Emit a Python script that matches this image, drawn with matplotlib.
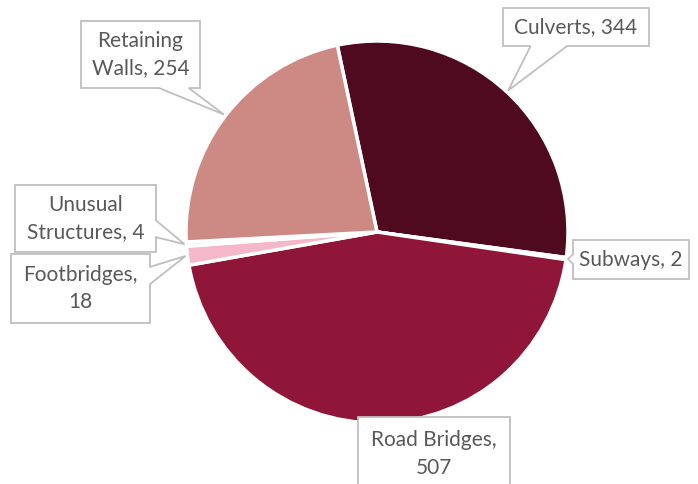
import numpy as np
import matplotlib.pyplot as plt
from matplotlib.patches import Polygon

categories = ["Culverts", "Subways", "Road Bridges", "Footbridges",
              "Unusual Structures", "Retaining Walls"]
values = [344, 2, 507, 18, 4, 254]
label_texts = ["Culverts, 344", "Subways, 2", "Road Bridges,\n507", "Footbridges,\n18",
               "Unusual\nStructures, 4", "Retaining\nWalls, 254"]
colors = ["#500A20", "#C0506E", "#8F1539", "#F4B8CA", "#F9DCE4", "#CD8A84"]

# callout boxes in pixels (left, top, right, bottom), y measured from top
boxes = [(503, 8, 649, 46), (573, 240, 689, 279), (358, 417, 510, 491),
         (11, 254, 150, 323), (15, 185, 156, 252), (81, 21, 200, 88)]

W, H = 698, 484
fig = plt.figure(figsize=(W / 100, H / 100), dpi=100)
ax = fig.add_axes([0, 0, 1, 1])

cx, cy, r = 377, 232, 191
wedges, _ = ax.pie(values, colors=colors, startangle=102, counterclock=False,
                   center=(cx, H - cy), radius=r, frame=True,
                   wedgeprops=dict(edgecolor="white", linewidth=2.5))
ax.set_xlim(0, W)
ax.set_ylim(0, H)
ax.set_aspect("equal")
ax.axis("off")


def callout(box, tip):
    # outline of a rectangle with a pointer, pixel coords (y down)
    l, t, rr, b = box
    bx, by = (l + rr) / 2, (t + b) / 2
    tx, ty = tip
    pts = [(l, t), (rr, t), (rr, b), (l, b)]
    if l <= tx <= rr and t - 4 <= ty <= b:
        return pts
    if ty > b or ty < t:
        side = "bottom" if ty > b else "top"
        half = (rr - l) * 0.125
        c = np.clip(bx + 0.4 * (tx - bx), l + half + 4, rr - half - 4)
        if side == "bottom":
            return [(l, t), (rr, t), (rr, b), (c + half, b), (tx, ty), (c - half, b), (l, b)]
        return [(l, t), (c - half, t), (tx, ty), (c + half, t), (rr, t), (rr, b), (l, b)]
    half = (b - t) * 0.125
    c = np.clip(by + 0.4 * (ty - by), t + half + 4, b - half - 4)
    if tx > rr:
        return [(l, t), (rr, t), (rr, c - half), (tx, ty), (rr, c + half), (rr, b), (l, b)]
    return [(l, t), (rr, t), (rr, b), (l, b), (l, c + half), (tx, ty), (l, c - half)]


for w, txt, box in zip(wedges, label_texts, boxes):
    mid = np.deg2rad((w.theta1 + w.theta2) / 2)
    tip = (cx + r * 1.01 * np.cos(mid), cy - r * 1.01 * np.sin(mid))
    pts = [(x, H - y) for x, y in callout(box, tip)]
    ax.add_patch(Polygon(pts, closed=True, fc="white", ec="#BFBFBF", lw=1.3, zorder=3))
    ax.text((box[0] + box[2]) / 2, H - (box[1] + box[3]) / 2, txt, ha="center",
            va="center", fontsize=15, family="Lato", color="#595959",
            linespacing=1.45, zorder=4)

fig.savefig("out.png", dpi=100)
